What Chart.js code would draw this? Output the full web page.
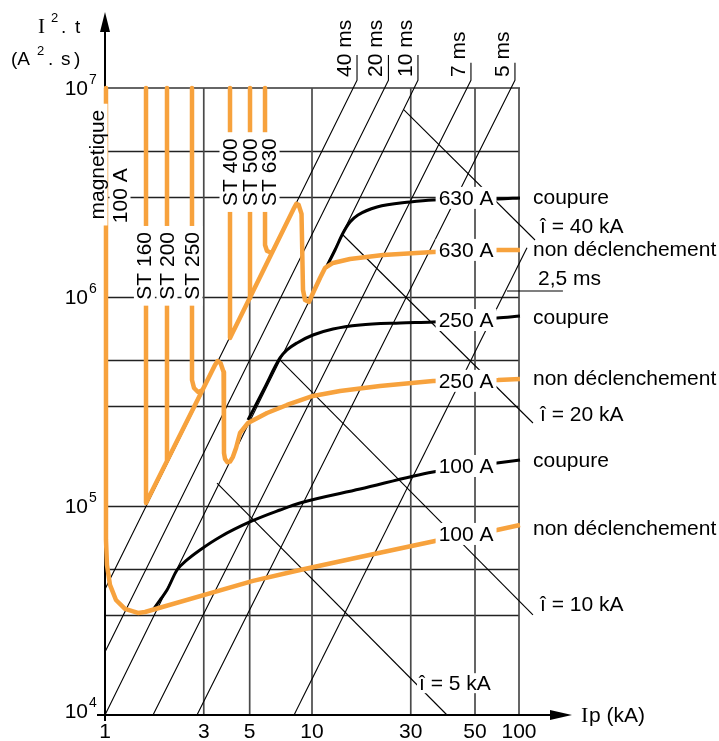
<!DOCTYPE html>
<html><head><meta charset="utf-8">
<script src="https://cdn.jsdelivr.net/npm/chart.js@4.4.1/dist/chart.umd.min.js"></script>
<style>html,body{margin:0;padding:0;background:#fff;}canvas{display:block;}</style>
</head><body>
<canvas id="c" width="719" height="741"></canvas>
<script>
// ---- axis ticks ----
const xTickValues = [1, 3, 5, 10, 30, 61.3, 100];
const xTickLabels = ['1', '3', '5', '10', '30', '50', '100'];
const yGridValues = [3e4, 5e4, 1e5, 3e5, 5e5, 1e6, 3e6, 5e6];
const yDecadeValues = [1e4, 1e5, 1e6, 1e7];
const yDecadeExps = ['4', '5', '6', '7'];

// ---- orange curves: non déclenchement / ST thresholds  [Ip kA, I2t A2s] ----
const nd100 = [[1.011,1e7],[1.011,6.88e4],[1.022,5.22e4],[1.057,4.19e4],[1.13,3.55e4],[1.249,3.22e4],[1.443,3.08e4],[1.561,3.11e4],[5.19,4.38e4],[8.75,4.94e4],[17.06,5.70e4],[39.3,6.80e4],[78.3,7.68e4],[101.1,8.11e4]];
const nd250 = [[1.578,1e7],[1.578,1.034e5],[3.40,4.73e5],[3.50,4.94e5],[3.62,4.82e5],[3.74,4.38e5],[3.757,1.79e5],[3.80,1.68e5],[3.90,1.62e5],[4.02,1.63e5],[4.15,1.72e5],[4.30,1.90e5],[4.49,2.235e5],[4.907,2.495e5],[6.063,2.786e5],[7.572,3.043e5],[10.11,3.36e5],[13.66,3.55e5],[21.31,3.75e5],[38.42,3.965e5],[79.16,4.01e5],[101.1,4.05e5]];
const st200 = [[1.993,1e7],[1.993,1.66e5]];
const st250 = [[2.632,1e7],[2.632,4.01e5],[2.692,3.67e5],[2.814,3.51e5],[2.975,3.59e5]];
const nd630 = [[4.017,1e7],[4.017,6.36e5],[8.20,2.67e6],[8.40,2.79e6],[8.62,2.76e6],[8.90,2.50e6],[9.048,1.08e6],[9.253,9.67e5],[9.672,9.47e5],[10.11,1.045e6],[10.93,1.233e6],[11.56,1.377e6],[12.63,1.455e6],[15.26,1.52e6],[22.03,1.589e6],[38.42,1.642e6],[79.16,1.678e6],[101.1,1.678e6]];
const st500 = [[5.018,1e7],[5.018,9.9e5]];
const st630 = [[5.93,1e7],[5.93,1.774e6],[6.063,1.66e6],[6.409,1.624e6]];

// ---- black curves: coupure ----
const cut100 = [[1.706,3.18e4],[1.844,3.55e4],[1.993,3.96e4],[2.228,4.94e4],[2.49,5.52e4],[2.877,6.16e4],[3.594,7.11e4],[5.131,8.48e4],[7.006,9.57e4],[8.75,1.034e5],[17.06,1.206e5],[38.42,1.455e5],[78.29,1.606e5],[101.1,1.66e5]];
const cut250 = [[4.907,2.58e5],[5.864,3.63e5],[7.006,5.11e5],[7.572,5.58e5],[8.464,6.03e5],[10.11,6.58e5],[12.63,7.03e5],[17.06,7.35e5],[26.61,7.51e5],[38.42,7.59e5],[78.29,7.94e5],[101.1,8.11e5]];
const cut630 = [[11.68,1.377e6],[12.92,1.678e6],[14.12,2.024e6],[15.26,2.285e6],[16.68,2.468e6],[20.61,2.696e6],[29.75,2.848e6],[38.42,2.912e6],[79.16,2.943e6],[101.1,2.977e6]];

// ---- thin reference lines: time (ms) and peak current (î) ----
const ms40 = [[1,4e4],[16.5,1.09e7],[16.5,1.44e7]];
const ms20 = [[1,2e4],[23.4,1.09e7],[23.4,1.44e7]];
const ms10 = [[1,1e4],[32.5,1.09e7],[32.5,1.44e7]];
const ms7 = [[1.706,1e4],[58.6,1.09e7],[58.6,1.32e7]];
const ms5 = [[2.782,1e4],[95.6,1.09e7],[95.6,1.32e7]];
const ms25 = [[8.19,1e4],[109.3,1.72e6]];
const ms25Lead = [[87.5,1.068e6],[163,1.068e6]];
const ip40 = [[27.8,7.85e6],[119.5,1.874e6],[149.3,1.874e6]];
const ip20 = [[14.12,1.98e6],[116.8,2.495e5],[163.2,2.495e5]];
const ip10 = [[7.006,5.0e5],[116.8,3.01e4],[161.4,3.01e4]];
const ip5 = [[3.476,1.288e5],[44.9,1e4]];

// ---- text labels ----
const curveLabels = [['630 A',55.5,2.98e6],['630 A',55.5,1.68e6],['250 A',55.5,7.76e5],['250 A',55.5,3.97e5],['100 A',55.5,1.554e5],['100 A',55.5,7.35e4]];
const rightLabels = [['coupure',2.98e6],['non déclenchement',1.68e6],['coupure',7.9e5],['non déclenchement',4.05e5],['coupure',1.63e5],['non déclenchement',7.75e4]];
const peakLabels = [['î = 40 kA',2.15e6],['î = 20 kA',2.725e5],['î = 10 kA',3.36e4]];
const timeLabels = [['40 ms',16.5],['20 ms',23.4],['10 ms',32.5],['7 ms',58.6],['5 ms',95.6]];
const stLabelsLow = [['ST 160',1.55],['ST 200',1.993],['ST 250',2.632]];
const stLabelsHigh = [['ST 400',4.017],['ST 500',5.018],['ST 630',6.2]];

const ORANGE = '#F7A23D';
const pts = a => a.map(p => ({x: p[0], y: p[1]}));
function ds(arr, color, width, order, smooth) {
  return {data: pts(arr), borderColor: color, backgroundColor: color, borderWidth: width, pointRadius: 0,
    showLine: true, fill: false, clip: false, order: order, tension: 0,
    cubicInterpolationMode: smooth ? 'monotone' : 'default', borderJoinStyle: 'round', borderCapStyle: 'butt'};
}
const datasets = [
  ds(nd100, ORANGE, 4.5, 1, false), ds(nd250, ORANGE, 4.5, 1, false), ds(st200, ORANGE, 4.5, 1, false),
  ds(st250, ORANGE, 4.5, 1, false), ds(nd630, ORANGE, 4.5, 1, false), ds(st500, ORANGE, 4.5, 1, false),
  ds(st630, ORANGE, 4.5, 1, false),
  ds(cut100, '#000', 3, 2, true), ds(cut250, '#000', 3, 2, true), ds(cut630, '#000', 3, 2, true),
  ds(ms40, '#000', 1.1, 3, false), ds(ms20, '#000', 1.1, 3, false), ds(ms10, '#000', 1.1, 3, false),
  ds(ms7, '#000', 1.1, 3, false), ds(ms5, '#000', 1.1, 3, false), ds(ms25, '#000', 1.1, 3, false),
  ds(ms25Lead, '#000', 1.1, 3, false),
  ds(ip40, '#000', 1.1, 3, false), ds(ip20, '#000', 1.1, 3, false), ds(ip10, '#000', 1.1, 3, false),
  ds(ip5, '#000', 1.1, 3, false)
];

const SANS = '"Liberation Sans", Arial, sans-serif';
const SERIF = '"Liberation Serif", "Times New Roman", serif';

const gridPlugin = {
  id: 'grid',
  beforeDatasetsDraw(chart) {
    const {ctx, chartArea: a, scales: {x, y}} = chart;
    ctx.save();
    ctx.lineCap = 'butt';
    ctx.strokeStyle = '#222'; ctx.lineWidth = 1.3;
    yGridValues.forEach(v => {
      const py = Math.round(y.getPixelForValue(v)) + 0.5;
      ctx.beginPath(); ctx.moveTo(a.left, py); ctx.lineTo(x.getPixelForValue(100), py); ctx.stroke();
    });
    ctx.strokeStyle = '#666'; ctx.lineWidth = 2;
    const ptop = y.getPixelForValue(1e7);
    ctx.beginPath(); ctx.moveTo(a.left, ptop); ctx.lineTo(x.getPixelForValue(100) + 1, ptop); ctx.stroke();
    ctx.strokeStyle = '#4a4a4a'; ctx.lineWidth = 1.7;
    xTickValues.slice(1).forEach(v => {
      const px = x.getPixelForValue(v);
      ctx.beginPath(); ctx.moveTo(px, y.getPixelForValue(1e4)); ctx.lineTo(px, ptop); ctx.stroke();
    });
    ctx.strokeStyle = '#000'; ctx.fillStyle = '#000'; ctx.lineWidth = 2;
    const ox = x.getPixelForValue(1), oy = y.getPixelForValue(1e4);
    ctx.beginPath(); ctx.moveTo(ox, oy + 1); ctx.lineTo(ox, a.top - 58); ctx.stroke();
    ctx.beginPath(); ctx.moveTo(ox, a.top - 76); ctx.lineTo(ox - 5, a.top - 56); ctx.lineTo(ox + 5, a.top - 56); ctx.closePath(); ctx.fill();
    ctx.beginPath(); ctx.moveTo(ox - 8, oy); ctx.lineTo(a.right + 34, oy); ctx.stroke();
    ctx.beginPath(); ctx.moveTo(a.right + 53, oy); ctx.lineTo(a.right + 31, oy - 5); ctx.lineTo(a.right + 31, oy + 5); ctx.closePath(); ctx.fill();
    ctx.beginPath(); ctx.moveTo(ox, oy); ctx.lineTo(ox, oy + 6); ctx.stroke();
    ctx.restore();
  },
  afterDatasetsDraw(chart) {
    const {ctx, chartArea: a, scales: {x, y}} = chart;
    ctx.save();
    ctx.fillStyle = '#000';
    const F = '21px ' + SANS;
    function boxText(t, px, py, padX, padY) {
      ctx.font = F;
      const w = ctx.measureText(t).width;
      ctx.fillStyle = '#fff';
      ctx.fillRect(px - w / 2 - padX, py - padY, w + 2 * padX, 2 * padY);
      ctx.fillStyle = '#000';
      ctx.textAlign = 'center'; ctx.textBaseline = 'middle';
      ctx.fillText(t, px, py + 1);
    }
    function rotText(t, px, py, align, box, padY) {
      ctx.save();
      ctx.translate(px, py); ctx.rotate(-Math.PI / 2);
      ctx.font = F;
      const w = ctx.measureText(t).width;
      if (box) {
        ctx.fillStyle = '#fff';
        const x0 = align === 'center' ? -w / 2 : 0;
        ctx.fillRect(x0 - padY, -10.5, w + 2 * padY, 21);
      }
      ctx.fillStyle = '#000';
      ctx.textAlign = align; ctx.textBaseline = 'middle';
      ctx.fillText(t, 0, 1);
      ctx.restore();
    }
    curveLabels.forEach(l => boxText(l[0], x.getPixelForValue(l[1]), y.getPixelForValue(l[2]), 3, 11));
    boxText('î = 5 kA', x.getPixelForValue(49), y.getPixelForValue(1.42e4), 2, 10);
    ctx.font = F; ctx.textAlign = 'left'; ctx.textBaseline = 'middle'; ctx.fillStyle = '#000';
    rightLabels.forEach(l => ctx.fillText(l[0], a.right + 14, y.getPixelForValue(l[1])));
    peakLabels.forEach(l => ctx.fillText(l[0], a.right + 21, y.getPixelForValue(l[1])));
    ctx.fillText('2,5 ms', a.right + 19, y.getPixelForValue(1.22e6));
    timeLabels.forEach(l => rotText(l[0], x.getPixelForValue(l[1]) - 13, a.top - 11, 'left', false, 0));
    rotText('magnetique', a.left - 8, y.getPixelForValue(4.3e6), 'center', true, 6);
    rotText('100 A', a.left + 15, y.getPixelForValue(3.05e6), 'center', true, 9);
    stLabelsLow.forEach(l => rotText(l[0], x.getPixelForValue(l[1]), y.getPixelForValue(1.41e6), 'center', true, 6));
    stLabelsHigh.forEach(l => rotText(l[0], x.getPixelForValue(l[1]), y.getPixelForValue(3.96e6), 'center', true, 6));
    ctx.font = F; ctx.textAlign = 'center'; ctx.textBaseline = 'top'; ctx.fillStyle = '#000';
    xTickValues.forEach((v, i) => ctx.fillText(xTickLabels[i], x.getPixelForValue(v), a.bottom + 7));
    yDecadeValues.forEach((v, i) => {
      let py = y.getPixelForValue(v);
      if (i === 0) py -= 4;
      ctx.font = F; ctx.textAlign = 'right'; ctx.textBaseline = 'middle';
      ctx.fillText('10', a.left - 17, py + 1);
      ctx.font = '14px ' + SANS; ctx.textAlign = 'left'; ctx.textBaseline = 'alphabetic';
      ctx.fillText(yDecadeExps[i], a.left - 16, py - 4);
    });
    ctx.textAlign = 'left'; ctx.textBaseline = 'alphabetic';
    ctx.font = '21px ' + SERIF; ctx.fillText('I', 38, 33);
    ctx.font = '13px ' + SANS; ctx.fillText('2', 51, 22);
    ctx.font = '19px ' + SANS; ctx.fillText('.', 61, 33); ctx.fillText('t', 75, 33);
    ctx.font = '19px ' + SANS; ctx.fillText('(A', 11, 65);
    ctx.font = '13px ' + SANS; ctx.fillText('2', 37, 55);
    ctx.font = '19px ' + SANS; ctx.fillText('.', 48, 65); ctx.fillText('s', 61, 65); ctx.fillText(')', 74, 65);
    ctx.textBaseline = 'middle';
    ctx.font = '22px ' + SERIF; ctx.fillText('I', 581, y.getPixelForValue(1e4) + 1);
    ctx.font = '21px ' + SANS; ctx.fillText('p (kA)', 589, y.getPixelForValue(1e4) + 1);
    ctx.restore();
  }
};

new Chart(document.getElementById('c'), {
  type: 'scatter',
  data: {datasets},
  options: {
    responsive: false, animation: false, devicePixelRatio: 1,
    layout: {padding: {left: 105, top: 88, right: 200, bottom: 26}},
    plugins: {legend: {display: false}, tooltip: {enabled: false}},
    scales: {
      x: {type: 'logarithmic', min: 1, max: 100, display: false},
      y: {type: 'logarithmic', min: 1e4, max: 1e7, display: false}
    }
  },
  plugins: [gridPlugin]
});
</script>
</body></html>
